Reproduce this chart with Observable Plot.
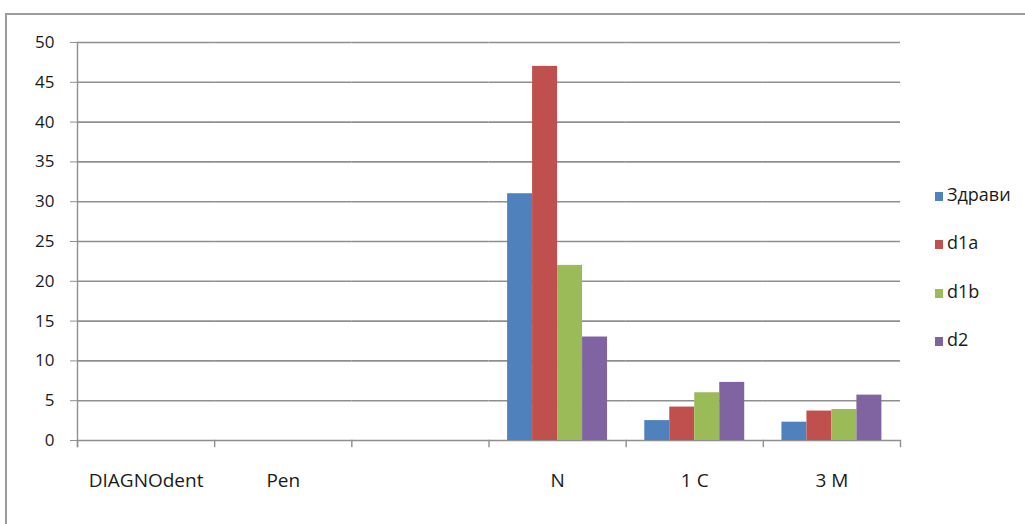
<!DOCTYPE html>
<html>
<head>
<meta charset="utf-8">
<script src="https://cdn.jsdelivr.net/npm/d3@7"></script>
<script src="https://cdn.jsdelivr.net/npm/@observablehq/plot@0.6"></script>
<style>
  html, body { margin: 0; padding: 0; background: #fff; overflow: hidden; }
  body { width: 1025px; height: 524px; position: relative; font-family: "Open Sans", sans-serif; }
  #border { position: absolute; left: 5px; top: 13px; width: 1100px; height: 600px; border: 2px solid #9c9c9c; box-sizing: border-box; }
  #chart { position: absolute; left: 0; top: 0; }
  #legend { position: absolute; left: 935px; top: 182px; }
  .item { height: 48.3px; display: flex; align-items: flex-start; font-size: 18px; color: #1a1a1a; }
  .sw { width: 8px; height: 9px; margin-top: 10px; margin-right: 4px; }
</style>
</head>
<body>
<div id="border"></div>
<div id="chart"></div>
<div id="legend"></div>
<script>
const categories = ["DIAGNOdent", "Pen", "", "N", "1 C", "3 M"];
const series = ["Здрави", "d1a", "d1b", "d2"];
const colors = ["#4f81bd", "#c0504d", "#9bbb59", "#8064a2"];
const valuesN  = [31, 47, 22, 13];
const values1C = [2.5, 4.2, 6, 7.3];
const values3M = [2.3, 3.7, 3.9, 5.7];
const yTicks = [0, 5, 10, 15, 20, 25, 30, 35, 40, 45, 50];

const data = [];
[["N", valuesN], ["1 C", values1C], ["3 M", values3M]].forEach(([cat, vals]) => {
  vals.forEach((v, i) => data.push({cat, series: series[i], value: v}));
});
const grid = [];
categories.forEach(cat => yTicks.forEach(t => grid.push({cat, t})));

const W = 1025, H = 524, mT = 42, mB = 84;
const plotH = H - mT - mB;

const chart = Plot.plot({
  width: W,
  height: H,
  marginLeft: 77,
  marginRight: 125,
  marginTop: mT,
  marginBottom: mB,
  style: {fontFamily: "'Open Sans', sans-serif", color: "#1a1a1a", background: "transparent", overflow: "visible"},
  fx: {domain: categories, padding: 0, label: null, round: false},
  x: {domain: series, paddingInner: 0, paddingOuter: 0.745, round: false, axis: null},
  y: {domain: [0, 50], label: null},
  color: {domain: series, range: colors},
  marks: [
    Plot.ruleY(grid, {fx: "cat", y: "t", stroke: "#8f8f8f", strokeWidth: 1.6}),
    Plot.barY(data, {fx: "cat", x: "series", y: "value", fill: "series", inset: 0}),
    Plot.frame({anchor: "left", facetAnchor: "left", insetBottom: -6, stroke: "#8f8f8f", strokeWidth: 1.4}),
    Plot.frame({anchor: "left", insetTop: plotH, insetBottom: -6, stroke: "#8f8f8f", strokeWidth: 1.4}),
    Plot.frame({anchor: "right", facetAnchor: "right", insetTop: plotH, insetBottom: -6, stroke: "#8f8f8f", strokeWidth: 1.4}),
    Plot.axisY({ticks: yTicks, tickSize: 7, tickPadding: 16, fontSize: 17, stroke: "#8f8f8f", label: null}),
    Plot.axisFx({anchor: "bottom", tickSize: 0, tickPadding: 33, fontSize: 19, label: null})
  ]
});
document.getElementById("chart").appendChild(chart);

const legend = d3.select("#legend");
series.forEach((s, i) => {
  const it = legend.append("div").attr("class", "item");
  it.append("div").attr("class", "sw").style("background", colors[i]);
  it.append("span").text(s);
});
</script>
</body>
</html>
